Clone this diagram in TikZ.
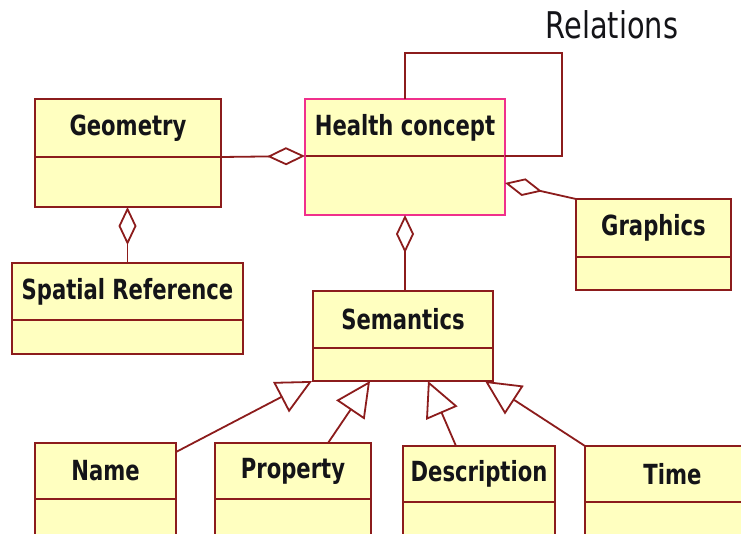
\documentclass[tikz,border=0pt]{standalone}
\usepackage{fontspec}
\usetikzlibrary{arrows.meta,calc}
\newfontfamily\classfont{DejaVu Sans Condensed}
\newfontfamily\notefont{DejaVu Sans Condensed}
\definecolor{umlline}{HTML}{8C1C1C}
\definecolor{umlfill}{HTML}{FFFFC0}
\definecolor{umlpink}{HTML}{F0308C}
\definecolor{umltext}{HTML}{141418}
\newcommand\tallbox[1]{\scalebox{1}[1.18]{#1}}
\tikzset{
  cls/.style={draw=umlline, fill=umlfill, line width=1.8pt, inner sep=0pt, outer sep=0pt},
  hot/.style={draw=umlpink, fill=umlfill, line width=1.8pt, inner sep=0pt, outer sep=0pt},
  divider/.style={line width=1.8pt},
  clstitle/.style={inner sep=0pt, text=umltext, font=\classfont\bfseries\fontsize{23.5}{26}\selectfont},
  link/.style={draw=umlline, line width=1.8pt},
  agg/.style={link, -{Diamond[open, length=38pt, width=18pt]}},
  gen/.style={link, -{Triangle[open, length=35pt, width=34pt]}},
}
% class box: name, x1, y1, x2, y2, divider y, title, box style
\newcommand\umlclass[8]{%
  \node[#8, minimum width={(#4-#2)*1pt}, minimum height={(#5-#3)*1pt}] (#1) at ({(#2+#4)/2},{(#3+#5)/2}) {};
  \coordinate (#1-dl) at (#2,#6);
  \coordinate (#1-dr) at (#4,#6);
  \draw[divider, draw=umlline] (#1-dl) -- (#1-dr);
  \node[clstitle] (#1-t) at ({(#2+#4)/2},{(#3+#6)/2}) {\tallbox{#7}};
}
\begin{document}
\begin{tikzpicture}[x=1pt, y=-1pt]
  \useasboundingbox (0,0) rectangle (741,533);
  \clip (0,0) rectangle (741,533);
  \fill[white] (0,0) rectangle (741,533);

  % classes
  \umlclass{geo}{35}{99}{221}{207}{157}{Geometry}{cls}
  \umlclass{hc}{305}{99}{505}{215}{156}{Health concept}{hot}
  \umlclass{sr}{12}{263}{243}{354}{320}{Spatial Reference}{cls}
  \umlclass{gr}{576}{199}{731}{290}{257}{Graphics}{cls}
  \umlclass{sem}{313}{291}{493}{381}{348}{Semantics}{cls}
  \umlclass{nm}{35}{443}{176}{570}{499}{Name}{cls}
  \umlclass{pr}{215}{443}{371}{570}{499}{Property}{cls}
  \umlclass{ds}{403}{446}{555}{570}{502}{Description}{cls}
  \umlclass{tm}{585}{446}{760}{570}{502}{Time}{cls}
  \draw[hot, fill=none] (hc.north west) rectangle (hc.south east);

  % self relation loop
  \coordinate (loop) at (562,53);
  \draw[link] (hc.north) |- (loop) |- (hc-dr);
  \node[inner sep=0pt, text=umltext, font=\notefont\fontsize{32}{36}\selectfont] (rel) at (612,25) {\scalebox{1}[1.15]{Relations}};

  % aggregations
  \draw[agg] (geo-dr) -- (hc-dl);
  \draw[agg] (sr.north) -- (sr.north |- geo.south);
  \draw[agg] (hc.south |- sem.north) -- (hc.south);
  \draw[agg] (gr.north west) -- ($(hc.south east)!0.276!(hc.north east)$);

  % generalizations
  \draw[gen] ($(nm.north east)+(0,9)$) -- ($(sem.south west)+(-1,0)$);
  \draw[gen] ($(pr.north west)+(113,0)$) -- ($(sem.south west)+(57,0)$);
  \draw[gen] ($(ds.north west)+(53,0)$) -- ($(sem.south west)+(115,0)$);
  \draw[gen] (tm.north west) -- ($(sem.south west)+(172,0)$);
\end{tikzpicture}
\end{document}
